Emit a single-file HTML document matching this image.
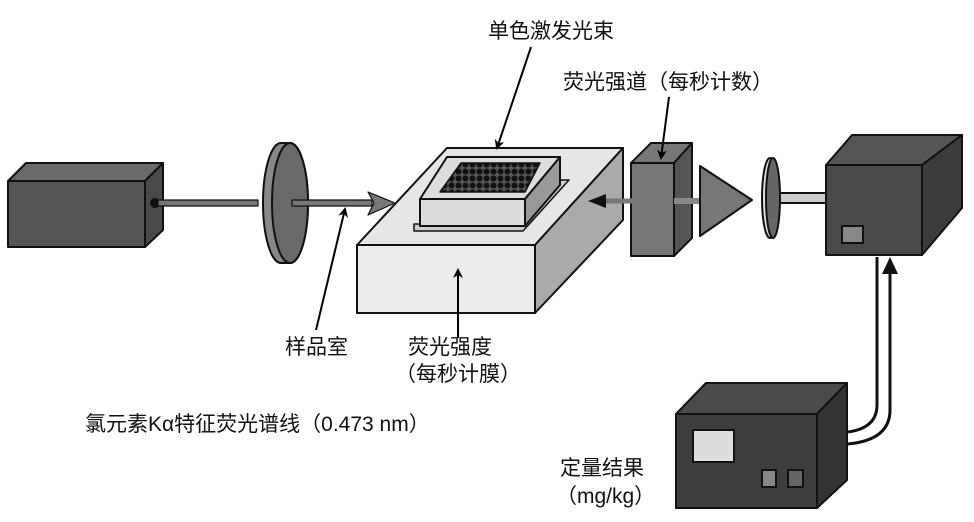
<!DOCTYPE html>
<html><head><meta charset="utf-8"><style>
html,body{margin:0;padding:0;background:#fff;}
svg{display:block;}
text{font-family:"Liberation Sans","Noto Sans CJK SC",sans-serif;font-size:21px;fill:#111;}
</style></head><body>
<svg width="974" height="522" viewBox="0 0 974 522" xmlns="http://www.w3.org/2000/svg">
<defs>
<marker id="ah" markerWidth="10" markerHeight="10" refX="8" refY="5" orient="auto" markerUnits="userSpaceOnUse"><path d="M0,0 L10,5 L0,10 L3,5 Z" fill="#000"/></marker>
<pattern id="dots" width="7" height="7" patternUnits="userSpaceOnUse"><rect width="7" height="7" fill="#555"/><circle cx="3.5" cy="3.5" r="3" fill="#111"/></pattern>
</defs>
<g stroke="#111" stroke-width="2" stroke-linejoin="round">
<polygon points="8,181 26,163 163,163 145,181" fill="#6a6a6a"/>
<polygon points="145,181 163,163 163,230 145,247" fill="#4a4a4a"/>
<rect x="8" y="181" width="137" height="66" fill="#555"/>
<circle cx="155" cy="203" r="4" fill="#111"/>
<rect x="158" y="200" width="100" height="6" fill="#777" stroke-width="1.2"/>
<path d="M281,143 A18,60 0 0 0 281,263 L290,263 A18,60 0 0 0 290,143 Z" fill="#888"/>
<ellipse cx="290" cy="203" rx="18" ry="60" fill="#6a6a6a"/>
<rect x="292" y="200" width="80" height="6" fill="#777" stroke-width="1.2"/>
<polygon points="368,192 395,203 368,215 374,203" fill="#777" stroke-width="1.2"/>
<polygon points="357,245 447,148 623,148 535,245" fill="#e6e6e6"/>
<polygon points="535,245 623,148 623,220 535,313" fill="#aaa"/>
<rect x="357" y="245" width="178" height="68" fill="#ececec"/>
<polygon points="414,231 523,231 569,180 560,180 523,224 414,224" fill="#ccc" stroke-width="1.5"/>
<polygon points="420,199 447,157 560,157 525,199" fill="#ddd"/>
<polygon points="525,199 560,157 560,185 525,226" fill="#999"/>
<rect x="420" y="199" width="105" height="27" fill="#ddd"/>
<polygon points="440,192 461,163 540,163 525,192" fill="url(#dots)" stroke-width="1.5"/>
<polygon points="631,163 651,143 692,143 674,163" fill="#777"/>
<polygon points="674,163 692,143 692,238 674,256" fill="#555"/>
<rect x="631" y="163" width="43" height="93" fill="#777"/>
<rect x="674" y="198" width="28" height="6" fill="#888" stroke="none"/>
<polygon points="700,166 752,200 700,236" fill="#777"/>
<rect x="772" y="193" width="56" height="10" fill="#ccc"/>
<ellipse cx="770" cy="198" rx="8" ry="40" fill="#ddd"/>
<ellipse cx="773" cy="198" rx="7" ry="40" fill="#666"/>
<polygon points="826,165 852,135 962,135 922,165" fill="#555"/>
<polygon points="922,165 962,135 962,208 922,255" fill="#3c3c3c"/>
<rect x="826" y="165" width="96" height="90" fill="#4a4a4a"/>
<rect x="842" y="226" width="21" height="17" fill="#888"/>
<path d="M877,257 L877,405 Q877,428 848,432" fill="none" stroke="#111" stroke-width="3"/>
<path d="M890,270 L890,410 Q890,440 848,444" fill="none" stroke="#111" stroke-width="3"/>
<polygon points="882,274 890,257 898,274" fill="#111" stroke="none"/>
<polygon points="676,414 706,383 847,383 817,414" fill="#4a4a4a"/>
<polygon points="817,414 847,383 847,480 817,508" fill="#333"/>
<rect x="676" y="414" width="141" height="94" fill="#3e3e3e"/>
<rect x="693" y="430" width="41" height="32" fill="#ddd"/>
<rect x="762" y="470" width="14" height="17" fill="#888"/>
<rect x="788" y="470" width="15" height="17" fill="#666"/>
<line x1="632" y1="201" x2="605" y2="201" stroke="#777" stroke-width="5"/>
<polygon points="588,201 606,194 606,208" fill="#111" stroke="none"/>
</g>
<g stroke="#000" stroke-width="2" fill="none">
<line x1="531" y1="47" x2="497" y2="148" marker-end="url(#ah)"/>
<line x1="669" y1="97" x2="661" y2="158" marker-end="url(#ah)"/>
<line x1="316" y1="330" x2="345" y2="209" marker-end="url(#ah)"/>
<line x1="458" y1="338" x2="458" y2="270" marker-end="url(#ah)"/>
</g>
<text x="488" y="38">单色激发光束</text>
<text x="563" y="89">荧光强道（每秒计数）</text>
<text x="285" y="354">样品室</text>
<text x="408" y="354">荧光强度</text>
<text x="395" y="381">（每秒计膜）</text>
<text x="85" y="431">氯元素Kα特征荧光谱线（0.473 nm）</text>
<text x="560" y="475">定量结果</text>
<text x="556" y="503">（mg/kg）</text>
</svg>
</body></html>
